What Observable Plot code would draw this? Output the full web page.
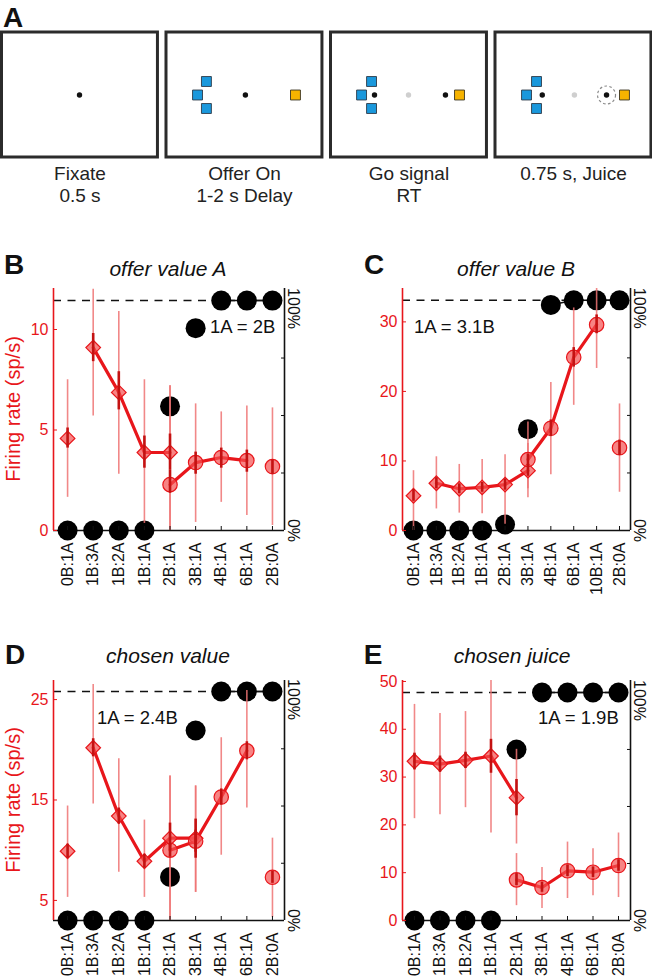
<!DOCTYPE html>
<html><head><meta charset="utf-8">
<script src="https://cdn.jsdelivr.net/npm/d3@7"></script>
<script src="https://cdn.jsdelivr.net/npm/@observablehq/plot@0.6"></script>
<style>
html,body{margin:0;padding:0;background:#fff;}
#root{position:relative;width:652px;height:979px;overflow:hidden;font-family:"Liberation Sans",Arial,sans-serif;color:#111;}
.lbl{position:absolute;white-space:nowrap;line-height:1;}
.letter{font-weight:bold;font-size:28px;transform:translate(-50%,-50%);}
.title{font-style:italic;font-size:21px;transform:translate(-50%,-50%);}
.ylab{color:#e8161b;font-size:20px;transform:translate(-50%,-50%) rotate(-90deg);}
.ann{font-size:18.5px;transform:translateY(-50%);}
.plot{position:absolute;}
</style></head><body><div id="root"></div>
<script>
// ---------- Panel A: task schematic ----------
const stageLabels = ["Fixate\n0.5 s", "Offer On\n1-2 s Delay", "Go signal\nRT", "0.75 s, Juice"];
const screenFrames = [0, 1, 2, 3];
// [screen, kind, x fraction of screen, y fraction of screen]
const screenItems = [
  [0, "fix", 0.497, 0.5],
  [1, "blue", 0.256, 0.392], [1, "blue", 0.199, 0.5], [1, "blue", 0.256, 0.608], [1, "fix", 0.506, 0.5], [1, "juice", 0.827, 0.5],
  [2, "blue", 0.260, 0.392], [2, "blue", 0.196, 0.5], [2, "blue", 0.260, 0.608], [2, "fix", 0.279, 0.5], [2, "grey", 0.497, 0.5], [2, "fix", 0.734, 0.5], [2, "juice", 0.824, 0.5],
  [3, "blue", 0.263, 0.392], [3, "blue", 0.199, 0.5], [3, "blue", 0.263, 0.608], [3, "fix", 0.300, 0.5], [3, "grey", 0.506, 0.5], [3, "ring", 0.712, 0.5], [3, "fix", 0.712, 0.5], [3, "juice", 0.827, 0.5]
];

// ---------- Panels B-E ----------
const catsB = ["0B:1A","1B:3A","1B:2A","1B:1A","2B:1A","3B:1A","4B:1A","6B:1A","2B:0A"];
const catsC = ["0B:1A","1B:3A","1B:2A","1B:1A","2B:1A","3B:1A","4B:1A","6B:1A","10B:1A","2B:0A"];
const catsD = catsB;
const catsE = catsB;

// rows: [offer type, mean sp/s, thin bar low, thin bar high, thick bar low, thick bar high, joined by line]
const diamondsB = [
  ["0B:1A", 4.58, 1.65, 7.5, 4.1, 5.1, 0],
  ["1B:3A", 9.1, 5.7, 12.0, 8.4, 9.8, 1],
  ["1B:2A", 6.87, 2.8, 10.9, 6.0, 7.9, 1],
  ["1B:1A", 3.88, 0.35, 7.5, 3.1, 4.7, 1],
  ["2B:1A", 3.88, 0.0, 7.2, 3.0, 4.8, 1]
];
const circlesB = [
  ["2B:1A", 2.28, 0.0, 7.2, 1.85, 3.0, 1],
  ["3B:1A", 3.38, 0.4, 6.3, 2.8, 3.9, 1],
  ["4B:1A", 3.63, 1.4, 5.9, 3.1, 4.1, 1],
  ["6B:1A", 3.48, 0.75, 6.2, 2.9, 4.0, 1],
  ["2B:0A", 3.18, 0.25, 6.1, 2.8, 3.5, 0]
];
const choiceB = [0, 0, 0, 0, 54, 88, 100, 100, 100];

const diamondsC = [
  ["0B:1A", 5.0, 0.0, 8.6, 4.2, 5.9, 0],
  ["1B:3A", 6.8, 3.1, 10.6, 6.0, 7.6, 1],
  ["1B:2A", 6.0, 2.5, 9.5, 5.3, 6.7, 1],
  ["1B:1A", 6.2, 2.4, 10.2, 5.5, 6.9, 1],
  ["2B:1A", 6.6, 0.9, 10.9, 5.8, 7.4, 1],
  ["3B:1A", 8.6, 4.7, 12.5, 7.8, 9.5, 1]
];
const circlesC = [
  ["3B:1A", 10.2, 6.0, 15.6, 9.4, 11.0, 1],
  ["4B:1A", 14.7, 8.0, 21.3, 13.5, 15.9, 1],
  ["6B:1A", 24.9, 18.0, 32.0, 23.5, 26.3, 1],
  ["10B:1A", 29.6, 23.3, 34.8, 28.3, 31.0, 1],
  ["2B:0A", 11.9, 5.5, 18.2, 10.8, 13.0, 0]
];
const choiceC = [0, 0, 0, 0, 2.6, 44, 98, 100, 100, 100];

const diamondsD = [
  ["0B:1A", 9.9, 5.3, 14.4, 9.2, 10.6, 0],
  ["1B:3A", 20.2, 14.6, 26.5, 19.3, 21.1, 1],
  ["1B:2A", 13.4, 7.8, 19.1, 12.6, 14.2, 1],
  ["1B:1A", 8.9, 5.3, 13.0, 8.2, 9.6, 1],
  ["2B:1A", 11.2, 3.0, 17.4, 10.0, 12.7, 1],
  ["3B:1A", 11.2, 5.8, 16.4, 9.2, 13.1, 1]
];
const circlesD = [
  ["2B:1A", 10.0, 3.0, 17.4, 9.3, 10.7, 1],
  ["3B:1A", 10.9, 5.8, 16.4, 9.8, 12.0, 1],
  ["4B:1A", 15.3, 9.5, 21.2, 14.5, 16.1, 1],
  ["6B:1A", 19.9, 14.2, 25.9, 19.0, 20.8, 1],
  ["2B:0A", 7.3, 3.3, 11.2, 6.7, 7.9, 0]
];
const choiceD = [0, 0, 0, 0, 19, 83, 100, 100, 100];

const diamondsE = [
  ["0B:1A", 33.3, 21.3, 45.2, 31.5, 35.0, 1],
  ["1B:3A", 32.7, 22.1, 43.3, 31.0, 34.4, 1],
  ["1B:2A", 33.5, 23.6, 43.7, 31.8, 35.2, 1],
  ["1B:1A", 34.4, 18.3, 50.2, 30.8, 37.9, 1],
  ["2B:1A", 25.7, 16.0, 35.8, 21.9, 29.5, 1]
];
const circlesE = [
  ["2B:1A", 8.5, 3.1, 14.0, 7.3, 9.8, 1],
  ["3B:1A", 6.9, 2.5, 11.1, 5.9, 8.0, 1],
  ["4B:1A", 10.4, 4.6, 16.4, 9.2, 11.6, 1],
  ["6B:1A", 10.1, 5.2, 15.0, 9.0, 11.2, 1],
  ["2B:0A", 11.5, 4.8, 18.3, 10.3, 12.7, 1]
];
const choiceE = [0, 0, 0, 0, 75, 100, 100, 100, 100];

const yTicksB = [0, 5, 10];
const yTicksC = [0, 10, 20, 30];
const yTicksD = [5, 15, 25];
const yTicksE = [0, 10, 20, 30, 40, 50];
const pctTicks = [25, 50, 75];

const titles = ["offer value A", "offer value B", "chosen value", "chosen juice"];
const relValues = ["1A = 2B", "1A = 3.1B", "1A = 2.4B", "1A = 1.9B"];

// ---------- drawing ----------
const RED = "#e8161b";
const FONT = '"Liberation Sans", Arial, sans-serif';
const root = document.getElementById("root");

function addLabel(text, cls, x, y) {
  const d = document.createElement("div");
  d.className = "lbl " + cls;
  d.textContent = text;
  d.style.left = x + "px";
  d.style.top = y + "px";
  root.appendChild(d);
}
function place(svg, left, top) {
  svg.classList.add("plot");
  svg.style.left = left + "px";
  svg.style.top = top + "px";
  root.appendChild(svg);
}

// Panel A
const FW = 0.948;
const sx = d => d[0] + d[2] * FW;
const kind = k => screenItems.filter(d => d[1] === k);
const plotA = Plot.plot({
  width: 652, height: 205, margin: 0,
  x: {domain: [-0.0091, 3.9544], range: [0, 652], axis: null},
  y: {domain: [0, 1], range: [32, 157], axis: null},
  style: {fontFamily: FONT, background: "transparent", overflow: "visible"},
  marks: [
    Plot.rect(screenFrames, {x1: d => d, x2: d => d + FW, y1: () => 0, y2: () => 1, fill: "none", stroke: "#2b2b2b", strokeWidth: 3}),
    Plot.dot(kind("blue"), {x: sx, y: d => d[3], symbol: "square", r: 5.6, fill: "#1a98dc", stroke: "#2b3a48", strokeWidth: 0.9}),
    Plot.dot(kind("juice"), {x: sx, y: d => d[3], symbol: "square", r: 5.6, fill: "#f6b300", stroke: "#3a3320", strokeWidth: 0.9}),
    Plot.dot(kind("ring"), {x: sx, y: d => d[3], r: 9, fill: "none", stroke: "#8a8a8a", strokeWidth: 1.2, strokeDasharray: "2.6,2.4"}),
    Plot.dot(kind("grey"), {x: sx, y: d => d[3], r: 2.7, fill: "#cfcfcf"}),
    Plot.dot(kind("fix"), {x: sx, y: d => d[3], r: 2.7, fill: "#111"}),
    Plot.text(screenFrames, {x: d => d + FW / 2, y: () => 1.056, text: d => stageLabels[d], lineAnchor: "top", fontSize: 19, lineHeight: 1.16, fill: "#222"})
  ]
});
place(plotA, 0, 0);
addLabel("A", "letter", 13, 18);

function panel(cfg) {
  const {cats, dia, cir, choice, yDomain, yTicks, y100, pad, height, mL, mR, mT, mB} = cfg;
  const n = cats.length;
  const xmin = -pad[0], xmax = n - 1 + pad[1];
  const [y0, y1] = yDomain;
  const row = r => ({i: cats.indexOf(r[0]), m: r[1], lo: r[2], hi: r[3], slo: r[4], shi: r[5], line: r[6]});
  const D = dia.map(row), C = cir.map(row);
  const pctY = p => y0 + p / 100 * (y100 - y0);
  const ch = choice.map((p, i) => ({i, p, y: pctY(p)}));
  const full = ch.filter(d => d.p >= 97);
  const idx = d3.range(n);
  return Plot.plot({
    width: 326, height, marginLeft: mL, marginRight: mR, marginTop: mT, marginBottom: mB,
    x: {domain: [xmin, xmax]},
    y: {domain: yDomain},
    style: {fontFamily: FONT, background: "transparent", overflow: "visible"},
    marks: [
      Plot.ruleY([y100], {x1: xmin, x2: xmax, stroke: "#111", strokeWidth: 1.4, strokeDasharray: "8,6.5"}),
      Plot.line(full, {x: "i", y: "y", stroke: "#111", strokeWidth: 1.5}),
      Plot.ruleY([y0], {x1: xmin, x2: xmax, stroke: "#111", strokeWidth: 1.6}),
      Plot.ruleX([xmax], {y1: y0, y2: y1, stroke: "#111", strokeWidth: 1.6}),
      Plot.ruleX([xmin], {y1: y0, y2: y1, stroke: RED, strokeWidth: 1.6}),
      Plot.dot(ch, {x: "i", y: "y", r: 10, fill: "#000"}),
      Plot.ruleX(D, {x: "i", y1: "lo", y2: "hi", stroke: "#ef7373", strokeOpacity: 0.85, strokeWidth: 1.6}),
      Plot.ruleX(C, {x: "i", y1: "lo", y2: "hi", stroke: "#ef7373", strokeOpacity: 0.85, strokeWidth: 1.6}),
      Plot.line(D.filter(d => d.line), {x: "i", y: "m", stroke: RED, strokeWidth: 3.2}),
      Plot.line(C.filter(d => d.line), {x: "i", y: "m", stroke: RED, strokeWidth: 3.2}),
      Plot.dot(D, {x: "i", y: "m", symbol: "diamond2", r: 6.6, fill: "#f45050", fillOpacity: 0.7, stroke: RED, strokeWidth: 1.2}),
      Plot.dot(C, {x: "i", y: "m", symbol: "circle", r: 7.2, fill: "#f45050", fillOpacity: 0.7, stroke: RED, strokeWidth: 1.2}),
      Plot.ruleX(D, {x: "i", y1: "slo", y2: "shi", stroke: "#c41212", strokeWidth: 2.6}),
      Plot.ruleX(C, {x: "i", y1: "slo", y2: "shi", stroke: "#c41212", strokeWidth: 2.6}),
      Plot.axisY({ticks: yTicks, anchor: "left", tickSize: 4, dx: 4, tickFormat: () => "", stroke: RED, label: null}),
      Plot.axisY({ticks: yTicks, anchor: "left", tickSize: 0, tickPadding: 5, fill: RED, fontSize: 16, label: null}),
      Plot.axisY({ticks: pctTicks.map(pctY), anchor: "right", tickSize: 4, dx: -4, tickFormat: () => "", stroke: "#111", label: null}),
      Plot.axisX({ticks: idx, anchor: "bottom", tickSize: 4, dy: -4, tickFormat: () => "", stroke: "#111", label: null}),
      Plot.axisX({ticks: idx, anchor: "bottom", tickSize: 0, tickPadding: 12, tickRotate: -90, tickFormat: i => cats[i], fill: "#111", fontSize: 16, label: null}),
      Plot.text(["100%"], {x: () => xmax, y: () => y100, rotate: 90, dx: 9, dy: 8, fontSize: 16, fill: "#111"}),
      Plot.text(["0%"], {x: () => xmax, y: () => y0, rotate: 90, dx: 9, dy: 0, fontSize: 16, fill: "#111"})
    ]
  });
}

place(panel({cats: catsB, dia: diamondsB, cir: circlesB, choice: choiceB, yDomain: [0, 12.04], yTicks: yTicksB, y100: 11.44,
  pad: [0.55, 0.47], height: 350, mL: 53, mR: 42, mT: 38, mB: 70}), 0, 250);
place(panel({cats: catsC, dia: diamondsC, cir: circlesC, choice: choiceC, yDomain: [0, 34.8], yTicks: yTicksC, y100: 33.1,
  pad: [0.48, 0.48], height: 350, mL: 76, mR: 22, mT: 38, mB: 70}), 326, 250);
place(panel({cats: catsD, dia: diamondsD, cir: circlesD, choice: choiceD, yDomain: [3.0, 26.9], yTicks: yTicksD, y100: 25.8,
  pad: [0.55, 0.47], height: 339, mL: 53, mR: 42, mT: 40, mB: 59}), 0, 640);
place(panel({cats: catsE, dia: diamondsE, cir: circlesE, choice: choiceE, yDomain: [0, 50.2], yTicks: yTicksE, y100: 47.7,
  pad: [0.47, 0.47], height: 339, mL: 76, mR: 22, mT: 40, mB: 59}), 326, 640);

addLabel("B", "letter", 14, 265);
addLabel("C", "letter", 374, 265);
addLabel("D", "letter", 15, 655);
addLabel("E", "letter", 373, 655);
addLabel(titles[0], "title", 168, 268);
addLabel(titles[1], "title", 516, 268);
addLabel(titles[2], "title", 168, 655);
addLabel(titles[3], "title", 512, 655);
addLabel("Firing rate (sp/s)", "ylab", 13, 409);
addLabel("Firing rate (sp/s)", "ylab", 13, 800);
addLabel(relValues[0], "ann", 210, 327);
addLabel(relValues[1], "ann", 414, 327);
addLabel(relValues[2], "ann", 97, 718);
addLabel(relValues[3], "ann", 538, 718);
</script></body></html>
